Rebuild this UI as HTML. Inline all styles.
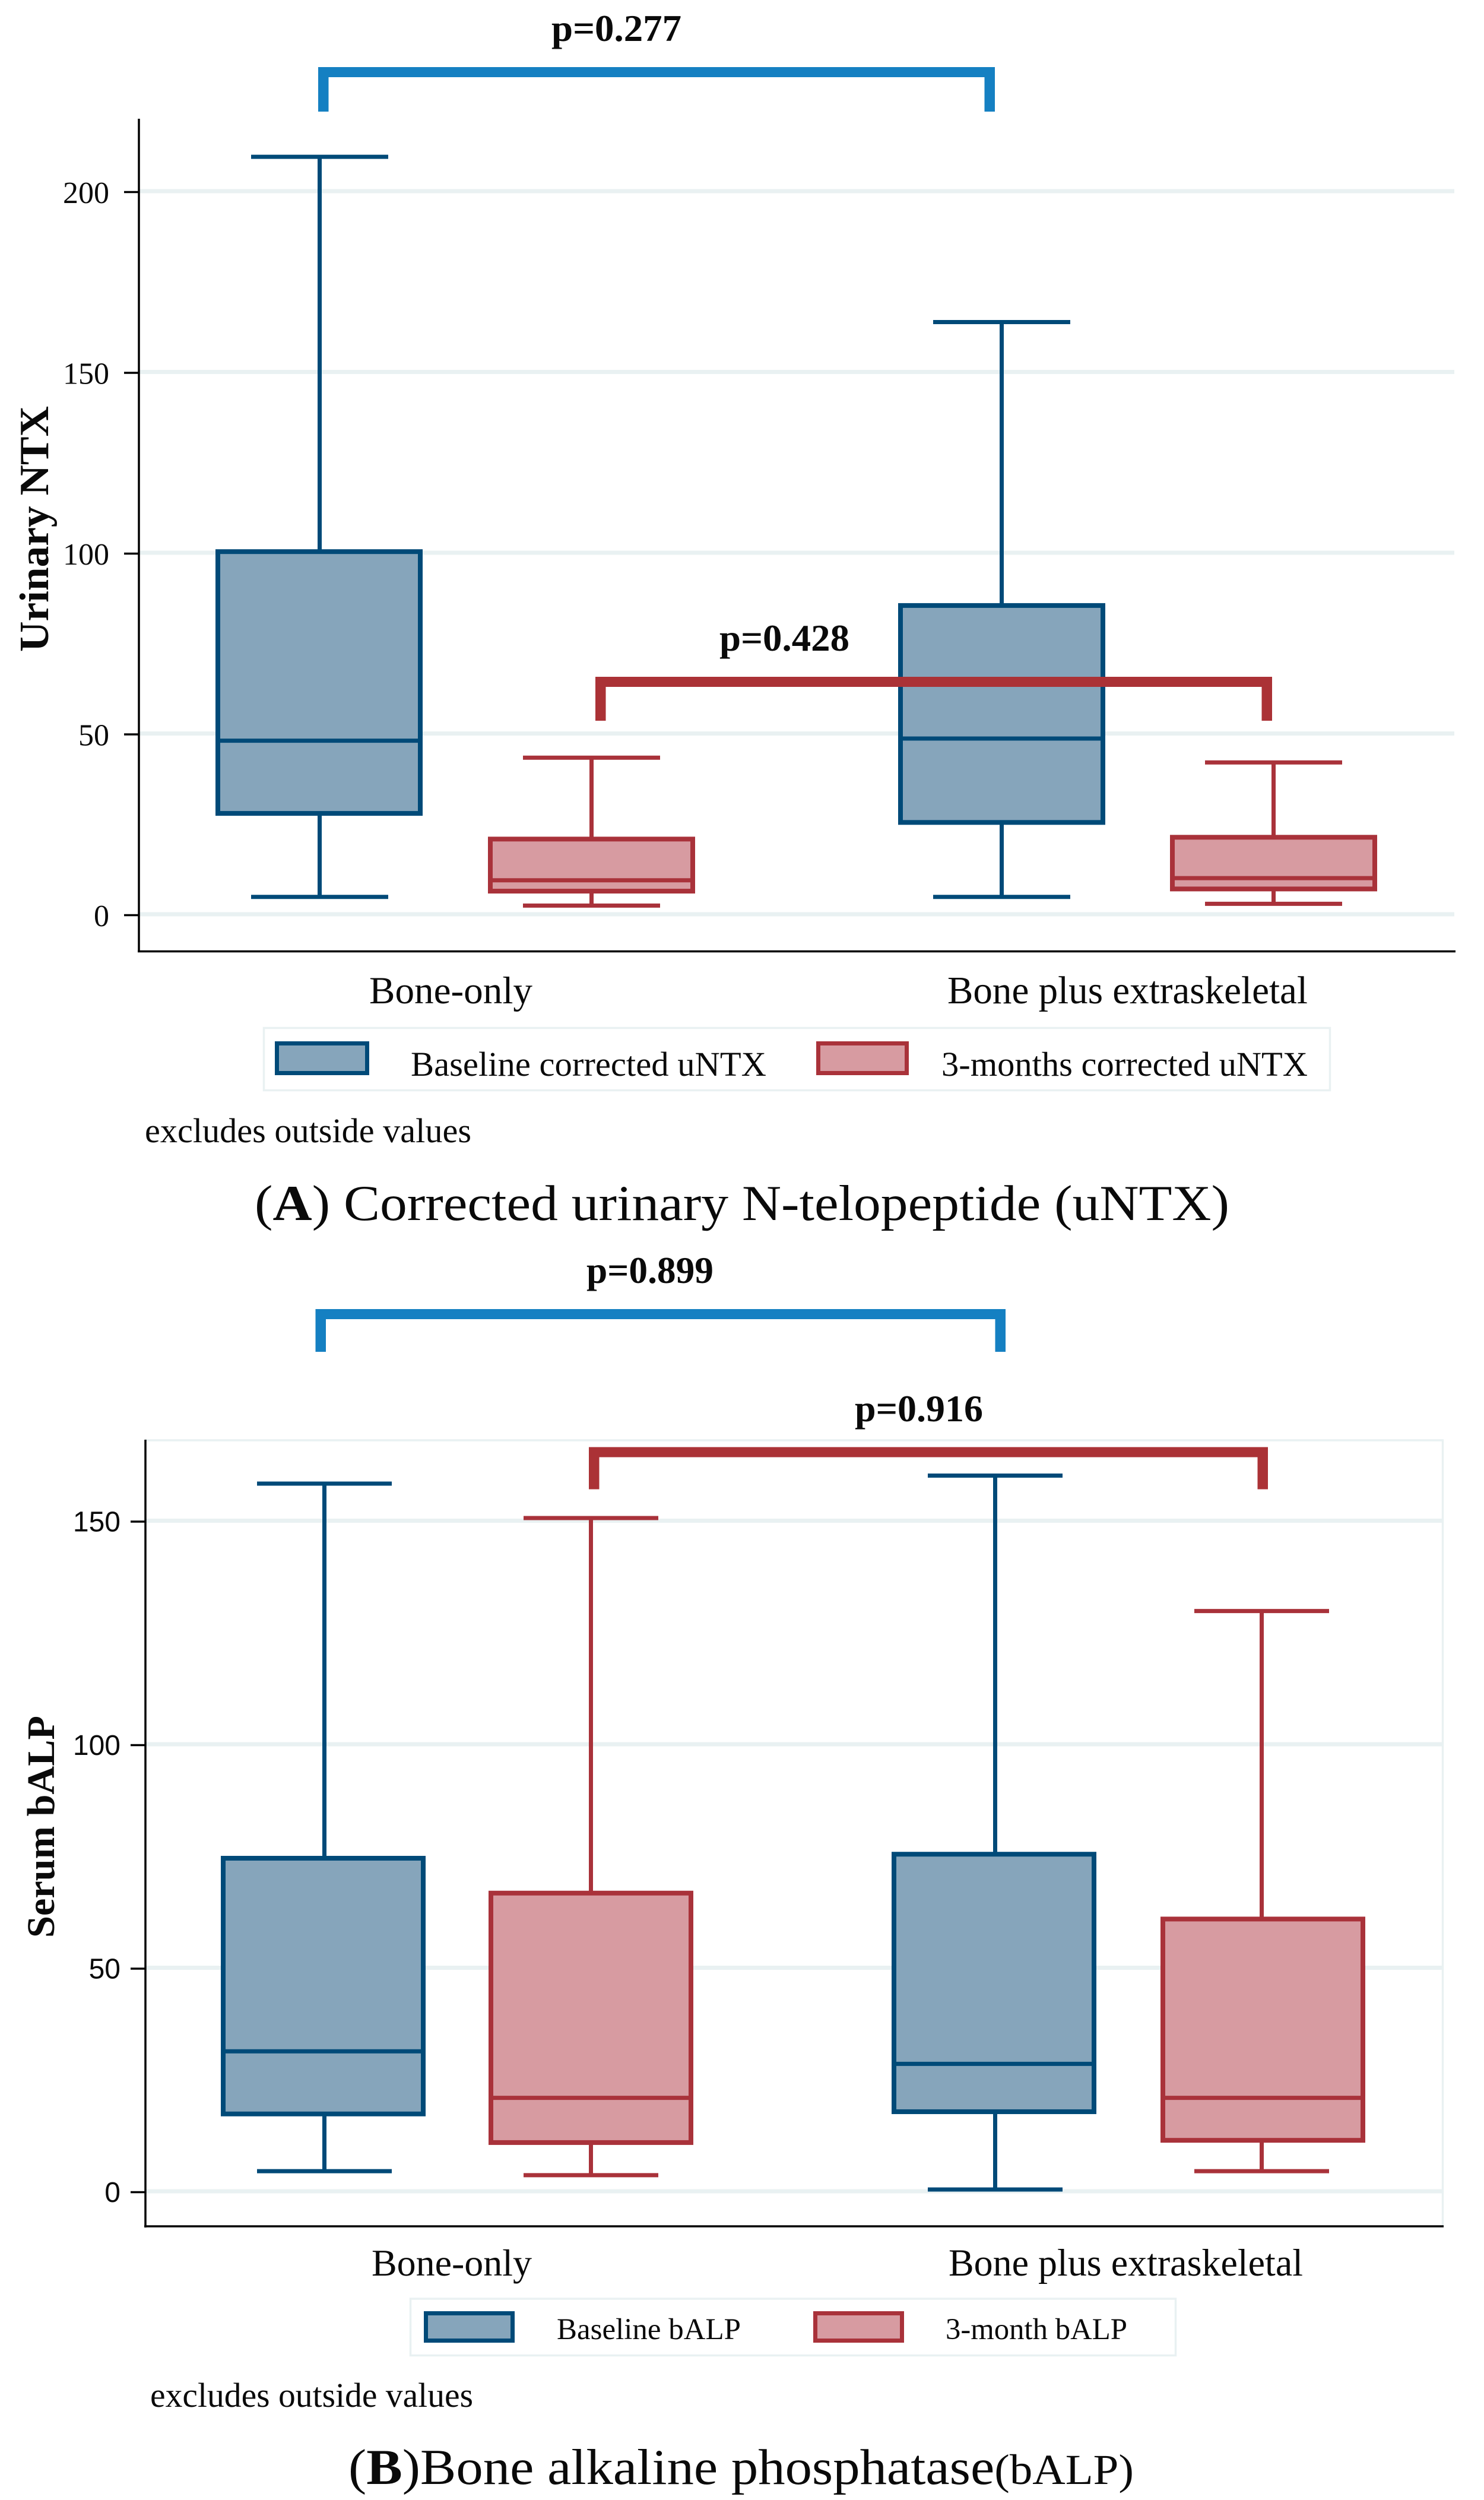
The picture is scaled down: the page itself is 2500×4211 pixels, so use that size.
<!DOCTYPE html>
<html lang="en">
<head>
<meta charset="utf-8">
<title>Corrected uNTX and bALP box plots</title>
<style>
html,body{margin:0;padding:0;background:#fff;}
svg{display:block;}
text{font-family:"Liberation Serif",serif;fill:#0a0a0a;}
.sans{font-family:"Liberation Sans",sans-serif;}
.b{font-weight:bold;}
</style>
</head>
<body>
<svg id="figure" xmlns="http://www.w3.org/2000/svg" width="2500" height="4211" viewBox="0 0 2500 4211">
<rect x="0" y="0" width="2500" height="4211" fill="#ffffff"/>
<g id="panel-a"></g>
<g id="panel-b"></g>

<text class="b" font-size="70" transform="translate(81 1098) rotate(-90)" textLength="414" lengthAdjust="spacingAndGlyphs">Urinary NTX</text>
<text class="b" x="929" y="69" font-size="63" textLength="219" lengthAdjust="spacingAndGlyphs">p=0.277</text>
<text class="b" x="1212" y="1096" font-size="63" textLength="219" lengthAdjust="spacingAndGlyphs">p=0.428</text>
<text x="622" y="1690" font-size="65" textLength="275" lengthAdjust="spacingAndGlyphs">Bone-only</text>
<text x="1596" y="1690" font-size="66" textLength="607" lengthAdjust="spacingAndGlyphs">Bone plus extraskeletal</text>
<rect x="444.5" y="1731.5" width="1796" height="105" fill="none" stroke="#e9f1f2" stroke-width="3.5"/>
<rect x="466.5" y="1757.5" width="152" height="50" fill="#86a5bb" stroke="#004a78" stroke-width="7"/>
<text x="692" y="1812" font-size="58" textLength="599" lengthAdjust="spacingAndGlyphs">Baseline corrected uNTX</text>
<rect x="1378.5" y="1757.5" width="149" height="50" fill="#d79ba1" stroke="#a9323a" stroke-width="7"/>
<text x="1586" y="1812" font-size="58" textLength="617" lengthAdjust="spacingAndGlyphs">3-months corrected uNTX</text>
<text x="244" y="1924" font-size="58" textLength="550" lengthAdjust="spacingAndGlyphs">excludes outside values</text>
<text x="429" y="2055" font-size="85" textLength="1642" lengthAdjust="spacingAndGlyphs">(<tspan class="b">A</tspan>) Corrected urinary N-telopeptide (uNTX)</text>

<text class="b" font-size="66" transform="translate(91 3264) rotate(-90)" textLength="374" lengthAdjust="spacingAndGlyphs">Serum bALP</text>
<text class="b" x="988" y="2161" font-size="63" textLength="214" lengthAdjust="spacingAndGlyphs">p=0.899</text>
<text class="b" x="1440" y="2394" font-size="63" textLength="216" lengthAdjust="spacingAndGlyphs">p=0.916</text>
<text x="626" y="3833" font-size="64" textLength="270" lengthAdjust="spacingAndGlyphs">Bone-only</text>
<text x="1598" y="3833" font-size="65" textLength="597" lengthAdjust="spacingAndGlyphs">Bone plus extraskeletal</text>
<rect x="691.5" y="3872" width="1289" height="95.5" fill="none" stroke="#e9f1f2" stroke-width="3.5"/>
<rect x="717.5" y="3896.5" width="146" height="46" fill="#86a5bb" stroke="#004a78" stroke-width="7"/>
<text x="938" y="3940" font-size="51" textLength="310" lengthAdjust="spacingAndGlyphs">Baseline bALP</text>
<rect x="1373.5" y="3896.5" width="146" height="46" fill="#d79ba1" stroke="#a9323a" stroke-width="7"/>
<text x="1593" y="3940" font-size="51" textLength="306" lengthAdjust="spacingAndGlyphs">3-month bALP</text>
<text x="253" y="4054" font-size="58" textLength="544" lengthAdjust="spacingAndGlyphs">excludes outside values</text>
<text x="587" y="4184" font-size="85" textLength="1323" lengthAdjust="spacingAndGlyphs">(<tspan class="b">B</tspan>)Bone alkaline phosphatase<tspan font-size="72">(bALP)</tspan></text>
</svg>

<script>
// Panel A — each array: [lower whisker, Q1, median, Q3, upper whisker]
const aBaselineBoneOnly = [4.8, 27.9, 48, 100.3, 209.5];
const a3MonthBoneOnly = [2.4, 6.4, 9.4, 20.8, 43.3];
const aBaselineExtra = [4.8, 25.4, 48.6, 85.4, 163.8];
const a3MonthExtra = [2.9, 7, 10, 21.3, 42];
const aTicks = [0, 50, 100, 150, 200];

// Panel B — each array: [lower whisker, Q1, median, Q3, upper whisker]
const bBaselineBoneOnly = [4.5, 17.3, 31.3, 74.5, 158.3];
const b3MonthBoneOnly = [3.6, 10.9, 20.9, 66.7, 150.6];
const bBaselineExtra = [0.4, 17.8, 28.5, 75.4, 160.1];
const b3MonthExtra = [4.5, 11.4, 20.9, 60.9, 129.8];
const bTicks = [0, 50, 100, 150];

const NS = 'http://www.w3.org/2000/svg';
const BLUE = {line: '#004a78', fill: '#86a5bb'};
const RED = {line: '#a9323a', fill: '#d79ba1'};
const GRID = '#e9f1f2';

function mk(tag, attrs, parent) {
  const el = document.createElementNS(NS, tag);
  for (const k in attrs) el.setAttribute(k, attrs[k]);
  parent.appendChild(el);
  return el;
}

function makeX(first, gap, off) {
  return function (group, series) {
    return first + group * gap + (series === 0 ? -off : off);
  };
}

function makeY(zeroY, pxPerUnit) {
  return function (v) { return zeroY - v * pxPerUnit; };
}

function drawBox(parent, stats, cx, boxShift, halfBox, halfCap, y, col, label) {
  const g = mk('g', {}, parent);
  
  
  const bx = cx + boxShift;
  const upper = mk('line', {x1: cx, x2: cx, y1: y(stats[4]), y2: y(stats[3]), stroke: col.line, 'stroke-width': 7}, g);
  
  
  const lower = mk('line', {x1: cx, x2: cx, y1: y(stats[1]), y2: y(stats[0]), stroke: col.line, 'stroke-width': 7}, g);
  
  
  const capHi = mk('line', {x1: cx - halfCap, x2: cx + halfCap, y1: y(stats[4]), y2: y(stats[4]), stroke: col.line, 'stroke-width': 7}, g);
  
  
  const capLo = mk('line', {x1: cx - halfCap, x2: cx + halfCap, y1: y(stats[0]), y2: y(stats[0]), stroke: col.line, 'stroke-width': 7}, g);
  
  
  const iqr = mk('rect', {x: bx - halfBox, y: y(stats[3]), width: halfBox * 2, height: y(stats[1]) - y(stats[3]), fill: col.fill, stroke: col.line, 'stroke-width': 8}, g);
  
  
  const med = mk('line', {x1: bx - halfBox, x2: bx + halfBox, y1: y(stats[2]), y2: y(stats[2]), stroke: col.line, 'stroke-width': 7}, g);
  
  
}

function drawGridAndTicks(parent, ticks, y, opt) {
  ticks.forEach(function (t) {
    const grid = mk('line', {x1: opt.axisX, x2: opt.gridEnd, y1: y(t), y2: y(t), stroke: GRID, 'stroke-width': 7}, parent);
    
    
    const tick = mk('line', {x1: opt.axisX - 25, x2: opt.axisX, y1: y(t) + 1.5, y2: y(t) + 1.5, stroke: '#000', 'stroke-width': 3.5}, parent);
    
    
    const lab = mk('text', {x: opt.labelX, y: y(t) + opt.labelDy, 'text-anchor': 'end', 'font-size': opt.labelSize}, parent);
    
    
    if (opt.sans) lab.setAttribute('class', 'sans');
    lab.textContent = String(t);
  });
}

function drawBracket(parent, x1, x2, top, legEnd, color, name) {
  const d = 'M' + x1 + ' ' + legEnd + 'V' + top + 'H' + x2 + 'V' + legEnd + 'H' + (x2 - 17.5) + 'V' + (top + 17) + 'H' + (x1 + 17.5) + 'V' + legEnd + 'Z';
  const p = mk('path', {d: d, fill: color}, parent);
  
  
}

// ---------- Panel A ----------
(function () {
  const root = document.getElementById('panel-a');
  const y = makeY(1540, 6.09);
  const x = makeX(767.5, 1149, 229);
  drawGridAndTicks(root, aTicks, y, {axisX: 234, gridEnd: 2450, labelX: 184, labelSize: 52, labelDy: 20, sans: false});
  const yAxis = mk('line', {x1: 234, x2: 234, y1: 200, y2: 1604, stroke: '#000', 'stroke-width': 3.5}, root);
  
  
  const xAxis = mk('line', {x1: 232, x2: 2452, y1: 1602.5, y2: 1602.5, stroke: '#000', 'stroke-width': 3.5}, root);
  
  
  drawBox(root, aBaselineBoneOnly, x(0, 0), -1, 170.5, 115.5, y, BLUE, 'a-baseline-bone-only');
  drawBox(root, a3MonthBoneOnly, x(0, 1), 0, 170.5, 115.5, y, RED, 'a-3-months-bone-only');
  drawBox(root, aBaselineExtra, x(1, 0), 0, 170.5, 115.5, y, BLUE, 'a-baseline-extraskeletal');
  drawBox(root, a3MonthExtra, x(1, 1), 0, 170.5, 115.5, y, RED, 'a-3-months-extraskeletal');
  drawBracket(root, 536, 1676, 113, 188, '#1580c2', 'panel-a-baseline-bracket');
  drawBracket(root, 1003, 2143, 1140, 1214, '#ab3236', 'panel-a-3-months-bracket');
})();

// ---------- Panel B ----------
(function () {
  const root = document.getElementById('panel-b');
  const y = makeY(3691, 7.53);
  const x = makeX(771, 1130, 224.5);
  const frameTop = mk('line', {x1: 245, x2: 2432, y1: 2426, y2: 2426, stroke: GRID, 'stroke-width': 3.5}, root);
  
  
  const frameRight = mk('line', {x1: 2430.5, x2: 2430.5, y1: 2425, y2: 3751, stroke: GRID, 'stroke-width': 3.5}, root);
  
  
  drawGridAndTicks(root, bTicks, y, {axisX: 245, gridEnd: 2430, labelX: 203, labelSize: 48, labelDy: 18, sans: true});
  const yAxis = mk('line', {x1: 245, x2: 245, y1: 2425, y2: 3752, stroke: '#000', 'stroke-width': 3.5}, root);
  
  
  const xAxis = mk('line', {x1: 243, x2: 2432, y1: 3750, y2: 3750, stroke: '#000', 'stroke-width': 3.5}, root);
  
  
  drawBox(root, bBaselineBoneOnly, x(0, 0), -2, 168.5, 113.5, y, BLUE, 'b-baseline-bone-only');
  drawBox(root, b3MonthBoneOnly, x(0, 1), 0, 168.5, 113.5, y, RED, 'b-3-month-bone-only');
  drawBox(root, bBaselineExtra, x(1, 0), -2, 168.5, 113.5, y, BLUE, 'b-baseline-extraskeletal');
  drawBox(root, b3MonthExtra, x(1, 1), 2, 168.5, 113.5, y, RED, 'b-3-month-extraskeletal');
  drawBracket(root, 531.5, 1694, 2205, 2277, '#1580c2', 'panel-b-baseline-bracket');
  drawBracket(root, 992, 2136, 2437.5, 2508.5, '#ab3236', 'panel-b-3-month-bracket');
})();
</script>
</body>
</html>
